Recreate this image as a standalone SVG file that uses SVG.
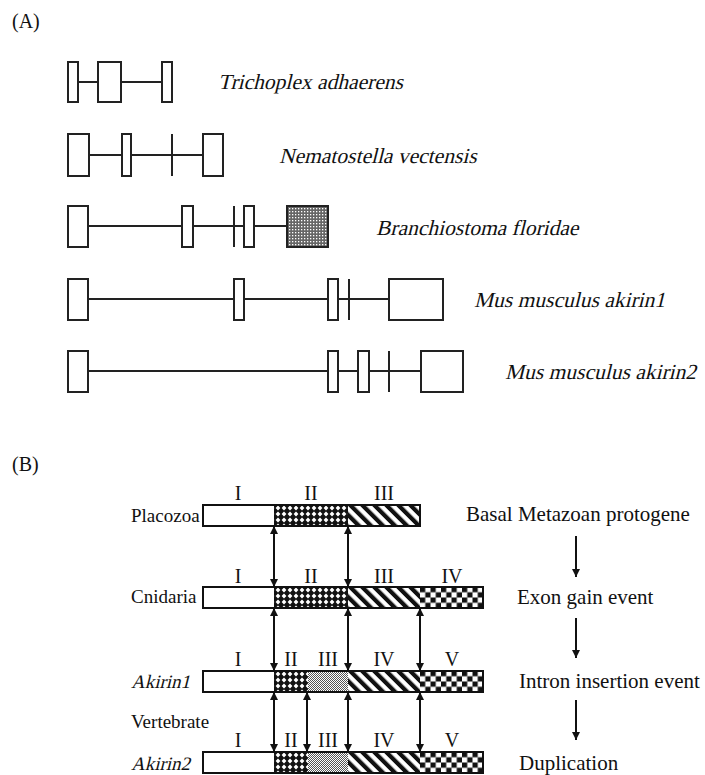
<svg xmlns="http://www.w3.org/2000/svg" width="705" height="775" viewBox="0 0 705 775">
<style>
text{font-family:"Liberation Serif","Times New Roman",serif;fill:#111}
.sp{font-size:21.5px}
.lab{font-size:20px}
.lft{font-size:19px}
.rt{font-size:21px}
.rn{font-size:20px;text-anchor:middle}
.box{fill:#fff;stroke:#222;stroke-width:2}
.ln{stroke:#222;stroke-width:2;fill:none}
.bar{fill:none;stroke:#111;stroke-width:2}
.arr{stroke:#111;stroke-width:2;fill:none}
</style>
<defs>
<pattern id="xh" patternUnits="userSpaceOnUse" width="6" height="6">
<rect width="6" height="6" fill="#111"/>
<path d="M3,0.6 L5.4,3 L3,5.4 L0.6,3 Z" fill="#fff"/>
</pattern>
<pattern id="st" patternUnits="userSpaceOnUse" width="8.5" height="8.5" patternTransform="rotate(-45)">
<rect width="8.5" height="8.5" fill="#fff"/>
<rect width="4.2" height="8.5" fill="#111"/>
</pattern>
<pattern id="ck" patternUnits="userSpaceOnUse" x="217" y="0" width="10.5" height="10.5">
<rect width="10.5" height="10.5" fill="#fff"/>
<rect width="5.25" height="5.25" fill="#111"/>
<rect x="5.25" y="5.25" width="5.25" height="5.25" fill="#111"/>
</pattern>
<pattern id="dt" patternUnits="userSpaceOnUse" width="2" height="2">
<rect width="2" height="2" fill="#fff"/>
<rect width="1" height="1" fill="#555"/>
<rect x="1" y="1" width="1" height="1" fill="#555"/>
</pattern>
<pattern id="gs" patternUnits="userSpaceOnUse" width="3" height="3">
<rect width="3" height="3" fill="#666"/>
<rect x="1" y="1" width="1.3" height="1.3" fill="#fff"/>
</pattern>
<marker id="ah" viewBox="0 0 10 10" refX="10" refY="5" markerWidth="8" markerHeight="8" markerUnits="userSpaceOnUse" orient="auto-start-reverse">
<path d="M0,0 L10,5 L0,10 Z" fill="#111"/>
</marker>
</defs>

<text class="lab" x="12" y="28">(A)</text>
<text class="lab" x="12" y="471">(B)</text>

<g id="trichoplex">
<line class="ln" x1="78" y1="82" x2="162" y2="82"/>
<rect class="box" x="68" y="62" width="10" height="40"/>
<rect class="box" x="98" y="62" width="23" height="40"/>
<rect class="box" x="162" y="62" width="10" height="40"/>
<text class="sp" transform="translate(218,89) skewX(-14)">Trichoplex adhaerens</text>
</g>

<g id="nematostella">
<line class="ln" x1="89" y1="155" x2="203" y2="155"/>
<rect class="box" x="68" y="134" width="21" height="42"/>
<rect class="box" x="122" y="134" width="9" height="42"/>
<line class="ln" x1="172" y1="134" x2="172" y2="176"/>
<rect class="box" x="203" y="134" width="20" height="42"/>
<text class="sp" transform="translate(279,163) skewX(-14)">Nematostella vectensis</text>
</g>

<g id="branchiostoma">
<line class="ln" x1="88" y1="226" x2="287" y2="226"/>
<rect class="box" x="68" y="206" width="20" height="41"/>
<rect class="box" x="182" y="206" width="11" height="41"/>
<line class="ln" x1="234" y1="206" x2="234" y2="247"/>
<rect class="box" x="244" y="206" width="10" height="41"/>
<rect x="287" y="206" width="41" height="41" fill="url(#gs)" stroke="#222" stroke-width="2"/>
<text class="sp" transform="translate(376,235) skewX(-14)">Branchiostoma floridae</text>
</g>

<g id="akirin1-gene">
<line class="ln" x1="88" y1="299" x2="389" y2="299"/>
<rect class="box" x="68" y="279" width="20" height="41"/>
<rect class="box" x="234" y="279" width="10" height="41"/>
<rect class="box" x="328" y="279" width="10" height="41"/>
<line class="ln" x1="349" y1="279" x2="349" y2="320"/>
<rect class="box" x="389" y="279" width="54" height="41"/>
<text class="sp" transform="translate(474,307) skewX(-14)">Mus musculus akirin1</text>
</g>

<g id="akirin2-gene">
<line class="ln" x1="88" y1="371" x2="421" y2="371"/>
<rect class="box" x="68" y="351" width="20" height="41"/>
<rect class="box" x="328" y="351" width="10" height="41"/>
<rect class="box" x="358" y="351" width="11" height="41"/>
<line class="ln" x1="389" y1="351" x2="389" y2="392"/>
<rect class="box" x="421" y="351" width="42" height="41"/>
<text class="sp" transform="translate(505,379) skewX(-14)">Mus musculus akirin2</text>
</g>

<g id="placozoa">
<text class="lft" x="131" y="522">Placozoa</text>
<text class="rn" x="238" y="500">I</text>
<text class="rn" x="311" y="500">II</text>
<text class="rn" x="384" y="500">III</text>
<g transform="translate(203,505)">
<rect width="71" height="21" fill="#fff"/>
<rect x="71" width="74" height="21" fill="url(#xh)"/>
<rect x="145" width="72" height="21" fill="url(#st)"/>
<rect class="bar" width="217" height="21"/>
</g>
<text class="rt" x="466" y="521">Basal Metazoan protogene</text>
</g>

<g id="cnidaria">
<text class="lft" x="131" y="603">Cnidaria</text>
<text class="rn" x="238" y="583">I</text>
<text class="rn" x="311" y="583">II</text>
<text class="rn" x="384" y="583">III</text>
<text class="rn" x="452" y="583">IV</text>
<g transform="translate(203,587)">
<rect width="71" height="21" fill="#fff"/>
<rect x="71" width="74" height="21" fill="url(#xh)"/>
<rect x="145" width="72" height="21" fill="url(#st)"/>
<rect x="217" width="63" height="21" fill="url(#ck)"/>
<rect class="bar" width="280" height="21"/>
</g>
<text class="rt" x="517" y="604">Exon gain event</text>
</g>

<g id="akirin1">
<text class="lft" transform="translate(131,688) skewX(-14)">Akirin1</text>
<text class="rn" x="238" y="666">I</text>
<text class="rn" x="291" y="666">II</text>
<text class="rn" x="328" y="666">III</text>
<text class="rn" x="384" y="666">IV</text>
<text class="rn" x="452" y="666">V</text>
<g transform="translate(203,671)">
<rect width="71" height="21" fill="#fff"/>
<rect x="71" width="34" height="21" fill="url(#xh)"/>
<rect x="105" width="40" height="21" fill="url(#dt)"/>
<rect x="145" width="72" height="21" fill="url(#st)"/>
<rect x="217" width="63" height="21" fill="url(#ck)"/>
<rect class="bar" width="280" height="21"/>
</g>
<text class="rt" x="519" y="688">Intron insertion event</text>
</g>

<g id="vertebrate">
<text class="lft" x="131" y="728">Vertebrate</text>
</g>

<g id="akirin2">
<text class="lft" transform="translate(131,770) skewX(-14)">Akirin2</text>
<text class="rn" x="238" y="747">I</text>
<text class="rn" x="291" y="747">II</text>
<text class="rn" x="328" y="747">III</text>
<text class="rn" x="384" y="747">IV</text>
<text class="rn" x="452" y="747">V</text>
<g transform="translate(203,752)">
<rect width="71" height="21" fill="#fff"/>
<rect x="71" width="34" height="21" fill="url(#xh)"/>
<rect x="105" width="40" height="21" fill="url(#dt)"/>
<rect x="145" width="72" height="21" fill="url(#st)"/>
<rect x="217" width="63" height="21" fill="url(#ck)"/>
<rect class="bar" width="280" height="21"/>
</g>
<text class="rt" x="519" y="770">Duplication</text>
</g>

<g id="connectors">
<line class="arr" x1="274" y1="526" x2="274" y2="587" marker-start="url(#ah)" marker-end="url(#ah)"/>
<line class="arr" x1="348" y1="526" x2="348" y2="587" marker-start="url(#ah)" marker-end="url(#ah)"/>
<line class="arr" x1="274" y1="608" x2="274" y2="671" marker-start="url(#ah)" marker-end="url(#ah)"/>
<line class="arr" x1="348" y1="608" x2="348" y2="671" marker-start="url(#ah)" marker-end="url(#ah)"/>
<line class="arr" x1="420" y1="608" x2="420" y2="671" marker-start="url(#ah)" marker-end="url(#ah)"/>
<line class="arr" x1="274" y1="692" x2="274" y2="752" marker-start="url(#ah)" marker-end="url(#ah)"/>
<line class="arr" x1="307" y1="692" x2="307" y2="752" marker-start="url(#ah)" marker-end="url(#ah)"/>
<line class="arr" x1="348" y1="692" x2="348" y2="752" marker-start="url(#ah)" marker-end="url(#ah)"/>
<line class="arr" x1="420" y1="692" x2="420" y2="752" marker-start="url(#ah)" marker-end="url(#ah)"/>
<line class="arr" x1="576" y1="536" x2="576" y2="577" marker-end="url(#ah)"/>
<line class="arr" x1="576" y1="618" x2="576" y2="658" marker-end="url(#ah)"/>
<line class="arr" x1="576" y1="700" x2="576" y2="740" marker-end="url(#ah)"/>
</g>
</svg>
